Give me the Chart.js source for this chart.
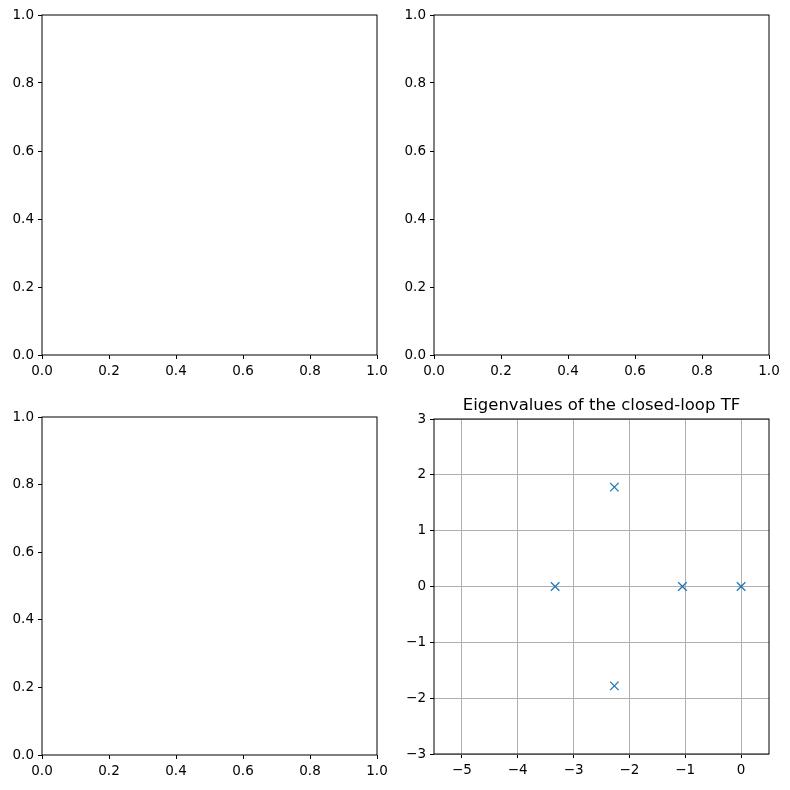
<!DOCTYPE html>
<html><head><meta charset="utf-8">
<script src="https://cdn.jsdelivr.net/npm/chart.js@4"></script>
<style>body{margin:0;background:#fff;width:790px;height:790px;position:relative}
canvas{position:absolute}</style></head><body>
<canvas id="c0" style="left:0;top:0"></canvas>
<canvas id="c1" style="left:395px;top:0"></canvas>
<canvas id="c2" style="left:0;top:395px"></canvas>
<canvas id="c3" style="left:395px;top:395px"></canvas>
<script>
const eigReal = [-3.33, -2.27, -2.27, -1.05, 0];
const eigImag = [0, 1.78, -1.78, 0, 0];
const emptyTicks = [0, 0.2, 0.4, 0.6, 0.8, 1.0];
const eigXTicks = [-5, -4, -3, -2, -1, 0];
const eigYTicks = [-3, -2, -1, 0, 1, 2, 3];
const titleText = "Eigenvalues of the closed-loop TF";

Chart.defaults.font.family = "DejaVu Sans";
Chart.defaults.font.size = 13.5;
Chart.defaults.color = "#000";
const fmt = v => String(v).replace('-', '\u2212');

const frame = {id:'frame', afterDraw(c){const a=c.chartArea,x=c.ctx;x.save();x.strokeStyle='#000';x.lineWidth=1;x.strokeRect(a.left,a.top,a.right-a.left,a.bottom-a.top);
 const t=c.options.plugins.ttl; if(t){x.fillStyle='#000';x.font='16.5px DejaVu Sans';x.textAlign='center';x.textBaseline='bottom';x.fillText(t,(a.left+a.right)/2,a.top-5);} x.restore();}};

function make(id, cfg){
  const cv=document.getElementById(id); cv.width=395; cv.height=395; cv.style.width='395px'; cv.style.height='395px';
  const grid = cfg.grid;
  const axis = (min,max,ticks,isX,decimals,size)=>({type:'linear',min,max,
    afterBuildTicks:s=>{s.ticks=ticks.map(v=>({value:v}));},
    afterFit:s=>{ if(isX) s.height=size; else s.width=size; },
    ticks:{callback:v=>decimals?v.toFixed(1):fmt(v),maxRotation:0,padding:4,color:'#000'},
    grid:{display:true,drawOnChartArea:grid,color:'#b0b0b0',tickColor:'#000',tickLength:4,lineWidth:1},
    border:{display:false}});
  new Chart(cv,{type:'scatter',
    data:{datasets:[{data:cfg.data,pointStyle:'crossRot',radius:6,borderColor:'#1f77b4',backgroundColor:'#1f77b4',borderWidth:1.3}]},
    options:{responsive:false,animation:false,devicePixelRatio:1,
      layout:{padding:{top:cfg.top,right:cfg.right,left:0,bottom:0}},
      plugins:{legend:{display:false},tooltip:{enabled:false},ttl:cfg.title},
      scales:{x:axis(cfg.xr[0],cfg.xr[1],cfg.xt,true,cfg.dec,cfg.xh),y:axis(cfg.yr[0],cfg.yr[1],cfg.yt,false,cfg.dec,cfg.yw)}},
    plugins:[frame]});
}
make('c0',{data:[],grid:false,top:15,right:18,xh:40,yw:42,xr:[0,1],yr:[0,1],xt:emptyTicks,yt:emptyTicks,dec:true});
make('c1',{data:[],grid:false,top:15,right:21,xh:40,yw:39,xr:[0,1],yr:[0,1],xt:emptyTicks,yt:emptyTicks,dec:true});
make('c2',{data:[],grid:false,top:22,right:18,xh:35,yw:42,xr:[0,1],yr:[0,1],xt:emptyTicks,yt:emptyTicks,dec:true});
make('c3',{data:eigReal.map((r,i)=>({x:r,y:eigImag[i]})),grid:true,top:24,right:21,xh:36,yw:39,xr:[-5.5,0.5],yr:[-3,3],xt:eigXTicks,yt:eigYTicks,dec:false,title:titleText});
</script></body></html>
